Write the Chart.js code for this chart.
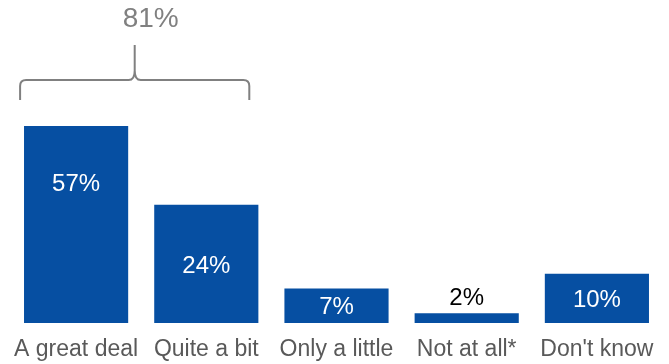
<!DOCTYPE html>
<html>
<head>
<meta charset="utf-8">
<script src="https://cdn.jsdelivr.net/npm/chart.js@4"></script>
<style>
  html, body { margin: 0; padding: 0; background: #fff; }
  #wrap { width: 669px; height: 364px; }
</style>
</head>
<body>
<div id="wrap"><canvas id="grafico"></canvas></div>
<script>
// datos del gráfico
const categorias = ["A great deal", "Quite a bit", "Only a little", "Not at all*", "Don't know"];
const valores = [57, 24, 7, 2, 10];
const totalAgrupado = "81%";   // suma de las dos primeras barras
const ejeMax = 40;              // la barra de 57% queda cortada arriba

const AZUL = "#064fa2";
const GRIS = "#595959";
const FUENTE = "'Liberation Sans', Arial, sans-serif";

// etiquetas de valor: centradas en la barra "real", fuera si es muy chica
const etiquetasValor = {
    id: "etiquetasValor",
    afterDatasetsDraw(chart) {
        const ctx = chart.ctx;
        const y = chart.scales.y;
        const meta = chart.getDatasetMeta(0);
        ctx.save();
        ctx.font = "24px " + FUENTE;
        ctx.textAlign = "center";
        ctx.textBaseline = "middle";
        meta.data.forEach((bar, i) => {
            const v = valores[i];
            const txt = v + "%";
            if (v < 5) {
                ctx.fillStyle = "#000";
                ctx.fillText(txt, bar.x, y.getPixelForValue(v) - 15);
            } else {
                ctx.fillStyle = "#fff";
                ctx.fillText(txt, bar.x, y.getPixelForValue(v / 2) + 2);
            }
        });
        ctx.restore();
    }
};

// llave sobre las dos primeras barras con el total
const llave = {
    id: "llave",
    afterDraw(chart) {
        const ctx = chart.ctx;
        const x = chart.scales.x;
        const izq = x.getPixelForValue(0) - 56;
        const der = x.getPixelForValue(1) + 43;
        const medio = (izq + der) / 2;
        const yBase = 100, yLinea = 80, yPico = 45, r = 6;
        ctx.save();
        ctx.strokeStyle = "#808080";
        ctx.lineWidth = 2;
        ctx.beginPath();
        ctx.moveTo(izq, yBase);
        ctx.lineTo(izq, yLinea + r);
        ctx.quadraticCurveTo(izq, yLinea, izq + r, yLinea);
        ctx.lineTo(medio - r, yLinea);
        ctx.quadraticCurveTo(medio, yLinea, medio, yLinea - r * 1.6);
        ctx.lineTo(medio, yPico);
        ctx.moveTo(medio, yLinea - r * 1.6);
        ctx.quadraticCurveTo(medio, yLinea, medio + r, yLinea);
        ctx.lineTo(der - r, yLinea);
        ctx.quadraticCurveTo(der, yLinea, der, yLinea + r);
        ctx.lineTo(der, yBase);
        ctx.stroke();

        ctx.fillStyle = "#808080";
        ctx.font = "28px " + FUENTE;
        ctx.textAlign = "center";
        ctx.textBaseline = "middle";
        ctx.fillText(totalAgrupado, medio + 16, 19);
        ctx.restore();
    }
};

new Chart(document.getElementById("grafico"), {
    type: "bar",
    data: {
        labels: categorias,
        datasets: [{
            data: valores,
            backgroundColor: AZUL,
            barPercentage: 0.8,
            categoryPercentage: 1.0,
            clip: 0
        }]
    },
    options: {
        responsive: true,
        maintainAspectRatio: false,
        animation: false,
        layout: { padding: { top: 126, left: 11, right: 7, bottom: 2 } },
        plugins: {
            legend: { display: false },
            tooltip: { enabled: false }
        },
        scales: {
            x: {
                grid: { display: false, drawTicks: false },
                border: { display: false },
                afterFit(escala) {
                    escala.height = 39;
                    escala.paddingLeft = 0;
                    escala.paddingRight = 0;
                },
                ticks: {
                    color: GRIS,
                    padding: 13,
                    maxRotation: 0,
                    autoSkip: false,
                    font: { family: FUENTE, size: 23 }
                }
            },
            y: {
                display: false,
                min: 0,
                max: ejeMax
            }
        }
    },
    plugins: [etiquetasValor, llave]
});
</script>
</body>
</html>
